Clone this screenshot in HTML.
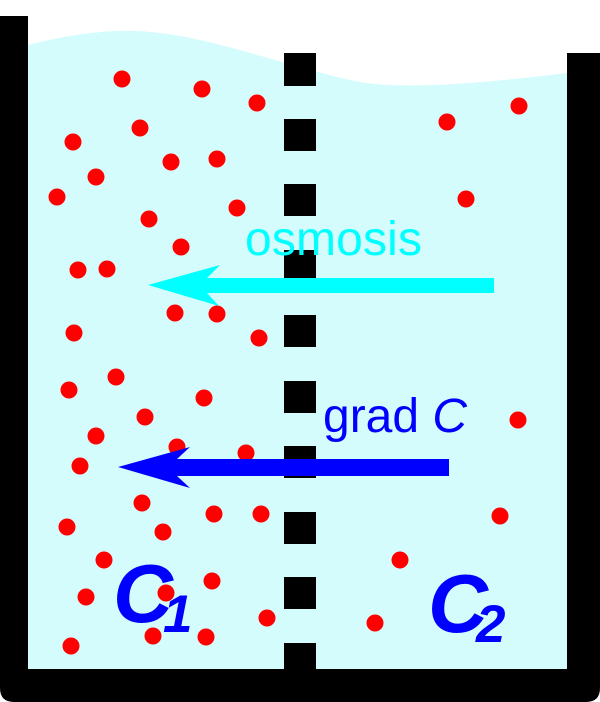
<!DOCTYPE html>
<html><head><style>html,body{margin:0;padding:0;background:#fff}svg{display:block}</style></head>
<body>
<svg width="600" height="702" viewBox="0 0 600 702" xmlns="http://www.w3.org/2000/svg">
<path d="M28 45 C80 32 120 28 160 33 C220 40 300 70 360 82 C400 89 470 85 567 73 L567 669 L28 669 Z" fill="#d4fcfc"/>
<path d="M0 16 L28 16 L28 669 L567 669 L567 53 L600 53 L600 688 Q600 702 586 702 L14 702 Q0 702 0 688 Z" fill="#000"/>
<g fill="#000">
<rect x="284" y="53" width="32" height="33"/>
<rect x="284" y="119" width="32" height="32"/>
<rect x="284" y="184" width="32" height="32"/>
<rect x="284" y="250" width="32" height="32"/>
<rect x="284" y="315" width="32" height="32"/>
<rect x="284" y="381" width="32" height="32"/>
<rect x="284" y="446" width="32" height="32"/>
<rect x="284" y="512" width="32" height="32"/>
<rect x="284" y="577" width="32" height="32"/>
<rect x="284" y="643" width="32" height="30"/>
</g>
<g fill="#f00">
<circle cx="122" cy="79" r="8.5"/><circle cx="202" cy="89" r="8.5"/><circle cx="257" cy="103" r="8.5"/>
<circle cx="73" cy="142" r="8.5"/><circle cx="140" cy="128" r="8.5"/><circle cx="171" cy="162" r="8.5"/>
<circle cx="217" cy="159" r="8.5"/><circle cx="96" cy="177" r="8.5"/><circle cx="57" cy="197" r="8.5"/>
<circle cx="237" cy="208" r="8.5"/><circle cx="149" cy="219" r="8.5"/><circle cx="181" cy="247" r="8.5"/>
<circle cx="78" cy="270" r="8.5"/><circle cx="107" cy="269" r="8.5"/><circle cx="175" cy="313" r="8.5"/>
<circle cx="217" cy="314" r="8.5"/><circle cx="259" cy="338" r="8.5"/><circle cx="74" cy="333" r="8.5"/>
<circle cx="116" cy="377" r="8.5"/><circle cx="69" cy="390" r="8.5"/><circle cx="204" cy="398" r="8.5"/>
<circle cx="145" cy="417" r="8.5"/><circle cx="96" cy="436" r="8.5"/><circle cx="177" cy="447" r="8.5"/>
<circle cx="246" cy="453" r="8.5"/><circle cx="80" cy="466" r="8.5"/><circle cx="142" cy="503" r="8.5"/>
<circle cx="214" cy="514" r="8.5"/><circle cx="261" cy="514" r="8.5"/><circle cx="67" cy="527" r="8.5"/>
<circle cx="163" cy="532" r="8.5"/><circle cx="104" cy="560" r="8.5"/><circle cx="212" cy="581" r="8.5"/>
<circle cx="86" cy="597" r="8.5"/><circle cx="166" cy="593" r="8.5"/><circle cx="267" cy="618" r="8.5"/>
<circle cx="153" cy="636" r="8.5"/><circle cx="206" cy="637" r="8.5"/><circle cx="71" cy="646" r="8.5"/>
<circle cx="447" cy="122" r="8.5"/><circle cx="519" cy="106" r="8.5"/><circle cx="466" cy="199" r="8.5"/>
<circle cx="518" cy="420" r="8.5"/><circle cx="500" cy="516" r="8.5"/><circle cx="400" cy="560" r="8.5"/>
<circle cx="375" cy="623" r="8.5"/>
</g>
<path d="M148 285 L220 265 L207 278 L494 278 L494 293 L207 293 L219 306 Z" fill="#00ffff"/>
<path d="M118 467 L190 447 L177 459 L449 459 L449 476 L177 476 L190 488 Z" fill="#0000ff"/>
<text x="245" y="255" font-family="Liberation Sans, sans-serif" font-size="48" fill="#00ffff" textLength="177">osmosis</text>
<text x="323" y="432" font-family="Liberation Sans, sans-serif" font-size="48" fill="#0000ff">grad <tspan font-style="italic">C</tspan></text>
<g font-family="Liberation Sans, sans-serif" font-weight="bold" font-style="italic" fill="#0000ff">
<text x="113" y="622" font-size="83">C</text><text x="163" y="632" font-size="53">1</text>
<text x="428" y="632" font-size="83">C</text><text x="476" y="642" font-size="53">2</text>
</g>
</svg>
</body></html>
